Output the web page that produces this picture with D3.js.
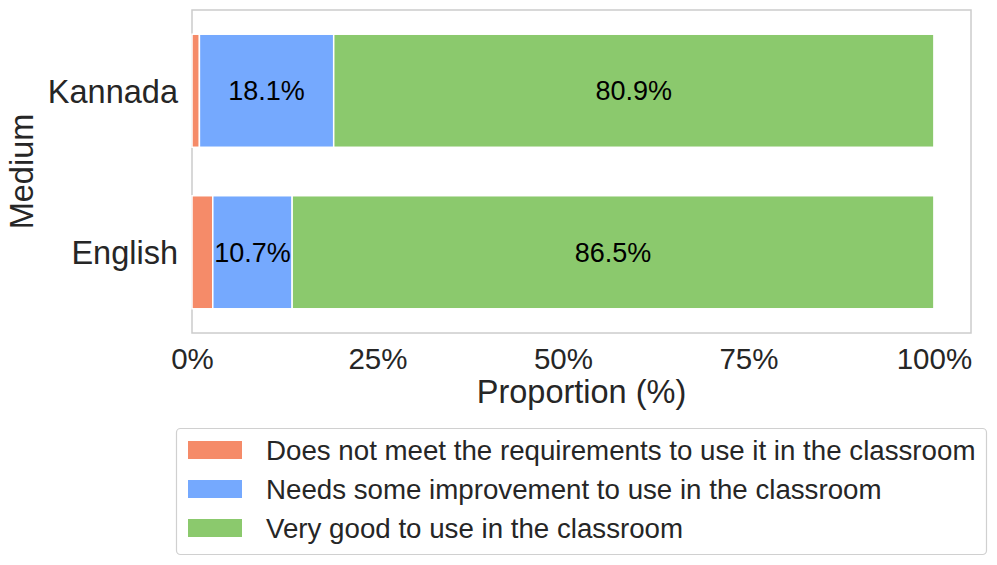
<!DOCTYPE html>
<html>
<head>
<meta charset="utf-8">
<script src="https://cdn.jsdelivr.net/npm/d3@7"></script>
<style>
  body { margin: 0; background: #fff; }
  svg { font-family: "Liberation Sans", Arial, Helvetica, sans-serif; }
</style>
</head>
<body>
<script>
var width = 997, height = 565;

// data
var mediums = ["Kannada", "English"];
var ratings = ["Does not meet the requirements to use it in the classroom",
               "Needs some improvement to use in the classroom",
               "Very good to use in the classroom"];
var notMeet = [1.0, 2.8];
var needsImprovement = [18.1, 10.7];
var veryGood = [80.9, 86.5];
var xTicks = [0, 25, 50, 75, 100];
var colors = ["#f58b69", "#75a9fe", "#8bc96d"];

var plot = {left: 192, right: 971, top: 10, bottom: 333};

var svg = d3.select("body").append("svg")
    .attr("width", width)
    .attr("height", height);

var xScale = d3.scaleLinear()
    .domain([0, 105])
    .range([plot.left, plot.right]);

var yScale = d3.scaleBand()
    .domain(mediums)
    .range([plot.top, plot.bottom])
    .paddingInner(0.3)
    .paddingOuter(0.15);

// stack the three series per medium
var rows = mediums.map(function(m, i) {
    return {medium: m, values: [notMeet[i], needsImprovement[i], veryGood[i]]};
});
var segments = [];
rows.forEach(function(r) {
    var start = 0;
    r.values.forEach(function(v, k) {
        segments.push({medium: r.medium, k: k, x0: start, x1: start + v, value: v});
        start += v;
    });
});

// frame
svg.append("rect")
    .attr("x", plot.left)
    .attr("y", plot.top)
    .attr("width", plot.right - plot.left)
    .attr("height", plot.bottom - plot.top)
    .attr("fill", "none")
    .attr("stroke", "#cccccc")
    .attr("stroke-width", 1.5);

svg.append("g").selectAll("rect")
    .data(segments)
    .enter().append("rect")
    .attr("x", d => xScale(d.x0))
    .attr("y", d => yScale(d.medium))
    .attr("width", d => xScale(d.x1) - xScale(d.x0))
    .attr("height", yScale.bandwidth())
    .attr("fill", d => colors[d.k])
    .attr("stroke", "#fff")
    .attr("stroke-width", 1.5);

// labels only where the segment is wide enough
svg.append("g").selectAll("text")
    .data(segments.filter(d => d.value > 5))
    .enter().append("text")
    .attr("x", d => xScale((d.x0 + d.x1) / 2))
    .attr("y", d => yScale(d.medium) + yScale.bandwidth() / 2)
    .attr("dy", "0.35em")
    .attr("text-anchor", "middle")
    .style("font-size", "27px")
    .attr("fill", "#000")
    .text(d => d.value.toFixed(1) + "%");

// x axis
var gx = svg.append("g")
    .attr("transform", "translate(0," + plot.bottom + ")")
    .call(d3.axisBottom(xScale).tickValues(xTicks).tickSize(0).tickPadding(12)
          .tickFormat(d => d + "%"));
gx.select(".domain").remove();
gx.selectAll("text")
    .attr("fill", "#262626")
    .style("font-size", "29.5px")
    .attr("dy", "0.71em")
    .attr("y", 15);

// y axis
var gy = svg.append("g")
    .attr("transform", "translate(" + plot.left + ",0)")
    .call(d3.axisLeft(yScale).tickSize(0).tickPadding(14));
gy.select(".domain").remove();
gy.selectAll("text")
    .attr("fill", "#262626")
    .attr("dy", "0.37em")
    .style("font-size", "32.5px");

svg.append("text")
    .attr("x", (plot.left + plot.right) / 2)
    .attr("y", 403)
    .attr("text-anchor", "middle")
    .attr("fill", "#262626")
    .style("font-size", "32.5px")
    .text("Proportion (%)");

svg.append("text")
    .attr("transform", "translate(33," + (plot.top + plot.bottom) / 2 + ") rotate(-90)")
    .attr("text-anchor", "middle")
    .attr("fill", "#262626")
    .style("font-size", "32.5px")
    .text("Medium");

// legend
var legend = svg.append("g");
legend.append("rect")
    .attr("x", 176.5)
    .attr("y", 428.5)
    .attr("width", 810)
    .attr("height", 126)
    .attr("rx", 4)
    .attr("fill", "#fff")
    .attr("stroke", "#d0d0d0")
    .attr("stroke-width", 1.2);

var item = legend.selectAll(".item")
    .data(ratings)
    .enter().append("g")
    .attr("class", "item")
    .attr("transform", (d, i) => "translate(188," + (450 + i * 39) + ")");
item.append("rect")
    .attr("x", 0)
    .attr("y", -9)
    .attr("width", 54)
    .attr("height", 18)
    .attr("fill", (d, i) => colors[i]);
item.append("text")
    .attr("x", 78)
    .attr("dy", "0.35em")
    .attr("fill", "#262626")
    .style("font-size", "27.7px")
    .text(d => d);
</script>
</body>
</html>
